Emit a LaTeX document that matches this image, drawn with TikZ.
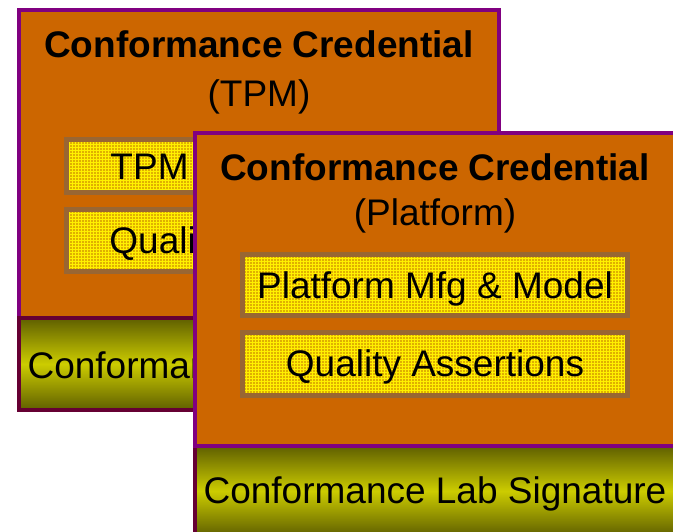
\documentclass[tikz,border=0pt]{standalone}
\usepackage{fontspec}
\setmainfont{Liberation Sans}
\usetikzlibrary{patterns}

\definecolor{cardorange}{HTML}{CC6600}
\definecolor{cardpurple}{HTML}{800080}
\definecolor{stripmaroon}{HTML}{660033}
\definecolor{boxbrown}{HTML}{996633}
\definecolor{boxgold}{HTML}{E0B000}
\definecolor{gridyellow}{HTML}{FFF000}
\definecolor{olivedark}{HTML}{5F5F00}
\definecolor{olivelight}{HTML}{CCCC00}

\tikzset{
  card/.style={draw=cardpurple, fill=cardorange, line width=4pt, inner sep=0pt},
  sigstrip/.style={draw=stripmaroon, line width=4pt, inner sep=0pt,
    top color=olivedark, bottom color=olivedark, middle color=olivelight},
  fieldbox/.style={draw=boxbrown, line width=5pt, inner sep=0pt,
    preaction={fill=boxgold}, pattern=grid, pattern color=gridyellow,
    text height=26.5pt, text depth=0pt, font=\fontsize{37}{44}\selectfont},
  titletext/.style={anchor=base, inner sep=0pt, font=\fontsize{37}{44}\selectfont\bfseries},
  subtext/.style={anchor=base, inner sep=0pt, font=\fontsize{37}{44}\selectfont},
}

\begin{document}
\begin{tikzpicture}[x=1pt, y=-1pt]
  \useasboundingbox (0,0) rectangle (673,531);
  \clip (0,0) rectangle (673,531);

  % TPM credential (behind)
  \node[card, minimum width=480pt, minimum height=308pt] (tpmcard) at (259,164) {};
  \node[sigstrip, minimum width=480pt, minimum height=92pt] (tpmsig) at (259,364) {};
  \node[titletext] (tpmtitle) at (259,57) {Conformance Credential};
  \node[subtext] (tpmsub) at (259,106) {(TPM)};
  \node[fieldbox, minimum width=385pt, minimum height=53pt] (tpmmfg) at (258.5,166) {TPM Mfg \& Model};
  \node[fieldbox, minimum width=385pt, minimum height=62pt] (tpmqa) at (258.5,240.5) {Quality Assertions};
  \node[subtext] (tpmsigtext) at (259,378) {Conformance Lab Signature};

  % Platform credential (in front)
  \node[sigstrip, minimum width=490pt, minimum height=90pt] (platsig) at (440,491) {};
  \node[card, minimum width=490pt, minimum height=313pt] (platcard) at (440,289.5) {};
  \node[titletext] (plattitle) at (435,180) {Conformance Credential};
  \node[subtext] (platsub) at (435,225) {(Platform)};
  \node[fieldbox, minimum width=385pt, minimum height=61pt] (platmfg) at (435,285) {Platform Mfg \& Model};
  \node[fieldbox, minimum width=385pt, minimum height=63pt] (platqa) at (435,363.5) {Quality Assertions};
  \node[subtext] (platsigtext) at (435,503) {Conformance Lab Signature};
\end{tikzpicture}
\end{document}
